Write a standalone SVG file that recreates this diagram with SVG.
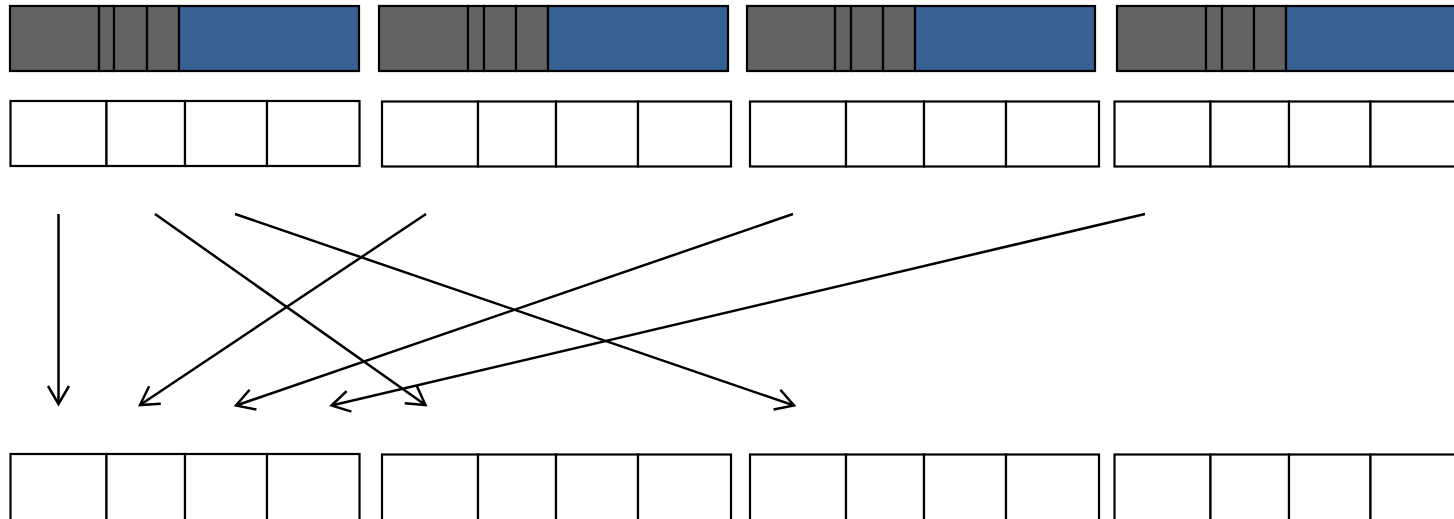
<svg xmlns="http://www.w3.org/2000/svg" width="1454" height="519" viewBox="0 0 1454 519">
<style>
.g{fill:#626262;stroke:#000;stroke-width:2.2}
.b{fill:#376092;stroke:#000;stroke-width:2.2}
.w{fill:#fff;stroke:#000;stroke-width:2.2}
.c{fill:none;stroke:#000;stroke-width:2.5}
</style>
<defs>
<marker id="ah" markerUnits="userSpaceOnUse" markerWidth="30" markerHeight="30" viewBox="-22 -15 30 30" refX="0" refY="0" orient="auto" overflow="visible">
<path d="M-18,-10.5 L0,0 L-18,10.5" fill="none" stroke="#000" stroke-width="2.5" stroke-linejoin="miter"/>
</marker>
</defs>
<rect width="1454" height="519" fill="#fff"/>
<g id="packet1">
<rect class="g" x="10" y="6" width="89" height="65"/>
<rect class="g" x="99" y="6" width="15" height="65"/>
<rect class="g" x="114" y="6" width="33" height="65"/>
<rect class="g" x="147" y="6" width="32" height="65"/>
<rect class="b" x="179" y="6" width="180" height="65"/>
</g>
<g id="packet2">
<rect class="g" x="379" y="6" width="89" height="65"/>
<rect class="g" x="468" y="6" width="16" height="65"/>
<rect class="g" x="484" y="6" width="32" height="65"/>
<rect class="g" x="516" y="6" width="32" height="65"/>
<rect class="b" x="548" y="6" width="180" height="65"/>
</g>
<g id="packet3">
<rect class="g" x="747" y="6" width="88" height="65"/>
<rect class="g" x="835" y="6" width="16" height="65"/>
<rect class="g" x="851" y="6" width="32" height="65"/>
<rect class="g" x="883" y="6" width="32" height="65"/>
<rect class="b" x="915" y="6" width="180" height="65"/>
</g>
<g id="packet4">
<rect class="g" x="1117" y="6" width="89" height="65"/>
<rect class="g" x="1206" y="6" width="16" height="65"/>
<rect class="g" x="1222" y="6" width="32" height="65"/>
<rect class="g" x="1254" y="6" width="32" height="65"/>
<rect class="b" x="1286" y="6" width="180" height="65"/>
</g>
<g id="row2-block1">
<rect class="w" x="10.5" y="101" width="96" height="65"/>
<rect class="w" x="106.5" y="101" width="78.5" height="65"/>
<rect class="w" x="185" y="101" width="82" height="65"/>
<rect class="w" x="267" y="101" width="92.5" height="65"/>
</g>
<g id="row2-block2">
<rect class="w" x="382" y="101.5" width="96" height="65"/>
<rect class="w" x="478" y="101.5" width="78" height="65"/>
<rect class="w" x="556" y="101.5" width="82" height="65"/>
<rect class="w" x="638" y="101.5" width="93" height="65"/>
</g>
<g id="row2-block3">
<rect class="w" x="750" y="101.5" width="96" height="65"/>
<rect class="w" x="846" y="101.5" width="78" height="65"/>
<rect class="w" x="924" y="101.5" width="82" height="65"/>
<rect class="w" x="1006" y="101.5" width="93" height="65"/>
</g>
<g id="row2-block4">
<rect class="w" x="1114.5" y="101.5" width="96" height="65"/>
<rect class="w" x="1210.5" y="101.5" width="78.5" height="65"/>
<rect class="w" x="1289" y="101.5" width="81.5" height="65"/>
<rect class="w" x="1370.5" y="101.5" width="93" height="65"/>
</g>
<g id="row3-block1">
<rect class="w" x="10.5" y="454" width="96" height="80"/>
<rect class="w" x="106.5" y="454" width="78.5" height="80"/>
<rect class="w" x="185" y="454" width="82" height="80"/>
<rect class="w" x="267" y="454" width="92.5" height="80"/>
</g>
<g id="row3-block2">
<rect class="w" x="382" y="454.5" width="96" height="80"/>
<rect class="w" x="478" y="454.5" width="78" height="80"/>
<rect class="w" x="556" y="454.5" width="82" height="80"/>
<rect class="w" x="638" y="454.5" width="93" height="80"/>
</g>
<g id="row3-block3">
<rect class="w" x="750" y="454.5" width="96" height="80"/>
<rect class="w" x="846" y="454.5" width="78" height="80"/>
<rect class="w" x="924" y="454.5" width="82" height="80"/>
<rect class="w" x="1006" y="454.5" width="93" height="80"/>
</g>
<g id="row3-block4">
<rect class="w" x="1114.5" y="454.5" width="96" height="80"/>
<rect class="w" x="1210.5" y="454.5" width="78.5" height="80"/>
<rect class="w" x="1289" y="454.5" width="81.5" height="80"/>
<rect class="w" x="1370.5" y="454.5" width="93" height="80"/>
</g>
<g id="connectors">
<line class="c" x1="58.5" y1="214" x2="58.5" y2="404" marker-end="url(#ah)"/>
<line class="c" x1="155" y1="214" x2="425.5" y2="405" marker-end="url(#ah)"/>
<line class="c" x1="235" y1="214" x2="794" y2="405.5" marker-end="url(#ah)"/>
<line class="c" x1="426" y1="214" x2="140" y2="405" marker-end="url(#ah)"/>
<line class="c" x1="793" y1="214" x2="236" y2="405.5" marker-end="url(#ah)"/>
<line class="c" x1="1145" y1="214" x2="331.5" y2="405.5" marker-end="url(#ah)"/>
</g>
</svg>
